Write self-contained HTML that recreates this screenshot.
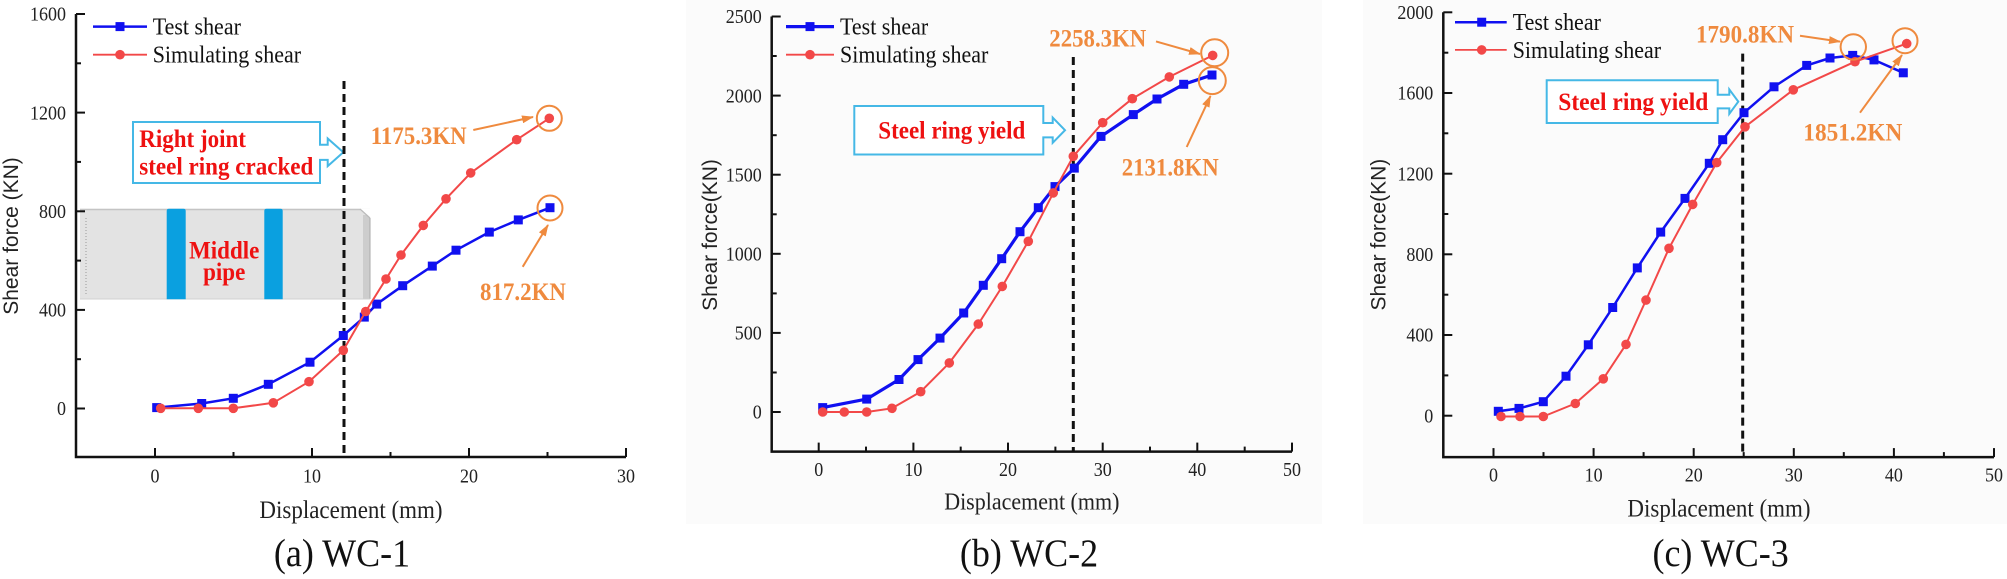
<!DOCTYPE html>
<html><head><meta charset="utf-8"><style>
html,body{margin:0;padding:0;background:#fff;}
svg{display:block;}
.tk{font-family:"Liberation Serif",serif;font-size:18px;fill:#222;}
.lg{font-family:"Liberation Serif",serif;font-size:22px;fill:#111;}
.yt{font-family:"Liberation Sans",sans-serif;font-size:21px;fill:#222;}
.xt{font-family:"Liberation Serif",serif;fill:#222;}
.cap{font-family:"Liberation Serif",serif;font-size:36px;fill:#111;}
.rd{font-family:"Liberation Serif",serif;font-weight:bold;font-size:23px;fill:#ee1111;}
.or{font-family:"Liberation Serif",serif;font-weight:bold;font-size:23px;fill:#ef8a3e;}
.ax{stroke:#111;stroke-width:2.5;fill:none;}
.bl{stroke:#1010f0;stroke-width:2.5;fill:none;stroke-linejoin:round;}
.re{stroke:#f24848;stroke-width:2;fill:none;stroke-linejoin:round;}
.dash{stroke:#111;stroke-width:3;stroke-dasharray:8 5;}
.co{fill:#fff;stroke:#45b8e6;stroke-width:2;}
.oc{fill:none;stroke:#ef8a3e;stroke-width:2;}
.oa{stroke:#ef8a3e;stroke-width:2;}
</style></head><body>
<svg width="2007" height="579" viewBox="0 0 2007 579" xmlns="http://www.w3.org/2000/svg">
<defs>
<marker id="ah" viewBox="0 0 12 8" refX="11" refY="4" markerWidth="12" markerHeight="8" markerUnits="userSpaceOnUse" orient="auto">
<path d="M0,0 L12,4 L0,8 Z" fill="#ef8a3e"/></marker>
<g id="sq"><rect x="-4.5" y="-4.5" width="9" height="9" fill="#1010f0"/></g>
<g id="ci"><circle r="4.8" fill="#f24848"/></g>
</defs>

<rect x="686" y="0" width="636" height="524" fill="#fbfbfb"/>
<rect x="1363" y="0" width="644" height="524" fill="#fbfbfb"/>

<!-- ================= PANEL A ================= -->
<!-- middle pipe -->
<g>
<rect x="80" y="208.8" width="290" height="90.5" fill="#e3e3e3"/>
<line x1="80" y1="209.5" x2="360" y2="209.5" stroke="#c4c4c4" stroke-width="1.5"/>
<rect x="363" y="215" width="7" height="84.3" fill="#cdcdcd"/>
<polygon points="360,208.8 370,218 370,208.8" fill="#fff"/>
<line x1="360" y1="209" x2="370" y2="218" stroke="#bbb" stroke-width="1.2"/>
<line x1="370" y1="218" x2="370" y2="299" stroke="#aaa" stroke-width="1"/>
<line x1="86" y1="218" x2="86" y2="294" stroke="#999" stroke-width="1" stroke-dasharray="1 2"/>
<line x1="80" y1="299" x2="370" y2="299" stroke="#d0d0d0" stroke-width="1"/>
<path d="M166.7,299.3 V211 Q166.7,208.8 169,208.8 H183.4 Q185.7,208.8 185.7,211 V299.3 Z" fill="#0aa0e0"/>
<path d="M264.3,299.3 V211 Q264.3,208.8 266.6,208.8 H280.4 Q282.7,208.8 282.7,211 V299.3 Z" fill="#0aa0e0"/>
<text class="rd" text-anchor="middle" transform="translate(224.2,258.5) scale(1,1.1)">Middle</text>
<text class="rd" text-anchor="middle" transform="translate(224.2,280) scale(1,1.1)">pipe</text>
</g>
<!-- axes -->
<path class="ax" d="M76,14 V457 H626"/>
<g stroke="#111" stroke-width="2">
<line x1="76" y1="14" x2="85" y2="14"/><line x1="76" y1="112.6" x2="85" y2="112.6"/><line x1="76" y1="211.3" x2="85" y2="211.3"/><line x1="76" y1="309.9" x2="85" y2="309.9"/><line x1="76" y1="408.5" x2="85" y2="408.5"/>
<line x1="76" y1="63.3" x2="81" y2="63.3"/><line x1="76" y1="161.9" x2="81" y2="161.9"/><line x1="76" y1="260.6" x2="81" y2="260.6"/><line x1="76" y1="359.2" x2="81" y2="359.2"/>
<line x1="155" y1="457" x2="155" y2="448"/><line x1="312" y1="457" x2="312" y2="448"/><line x1="469" y1="457" x2="469" y2="448"/><line x1="626" y1="457" x2="626" y2="448"/>
<line x1="233.5" y1="457" x2="233.5" y2="452"/><line x1="390.5" y1="457" x2="390.5" y2="452"/><line x1="547.5" y1="457" x2="547.5" y2="452"/>
</g>
<g class="tk" text-anchor="end">
<text transform="translate(66,20.7) scale(1,1.1)">1600</text>
<text transform="translate(66,119.3) scale(1,1.1)">1200</text>
<text transform="translate(66,218) scale(1,1.1)">800</text>
<text transform="translate(66,316.6) scale(1,1.1)">400</text>
<text transform="translate(66,415.2) scale(1,1.1)">0</text>
</g>
<g class="tk" text-anchor="middle">
<text transform="translate(155,482.7) scale(1,1.1)">0</text>
<text transform="translate(312,482.7) scale(1,1.1)">10</text>
<text transform="translate(469,482.7) scale(1,1.1)">20</text>
<text transform="translate(626,482.7) scale(1,1.1)">30</text>
</g>
<text class="yt" text-anchor="middle" transform="translate(18,236) rotate(-90)">Shear force (KN)</text>
<text class="xt" font-size="23" text-anchor="middle" transform="translate(351,518) scale(1,1.1)">Displacement (mm)</text>
<text class="cap" text-anchor="middle" transform="translate(342,566) scale(1,1.1)">(a) WC-1</text>
<!-- legend -->
<line x1="93" y1="26.6" x2="147" y2="26.6" stroke="#1010f0" stroke-width="2.5"/><use href="#sq" x="120" y="26.6"/>
<line x1="93" y1="54.7" x2="147" y2="54.7" stroke="#f24848" stroke-width="1.8"/><use href="#ci" x="120" y="54.7"/>
<text class="lg" transform="translate(152.7,34.5) scale(1,1.1)">Test shear</text>
<text class="lg" transform="translate(152.7,62.5) scale(1,1.1)">Simulating shear</text>
<!-- callout -->
<path class="co" d="M133,122 H320 V144.7 H327.7 V138.5 L343.3,152.3 L327.7,166.1 V159.9 H320 V183 H133 Z"/>
<text class="rd" transform="translate(139.3,147) scale(1,1.1)">Right joint</text>
<text class="rd" transform="translate(139.3,174.5) scale(1,1.1)" textLength="174" lengthAdjust="spacingAndGlyphs">steel ring cracked</text>
<!-- dashed -->
<line class="dash" x1="344" y1="81" x2="344" y2="457"/>
<!-- series -->
<polyline class="bl" points="156.7,407.6 201.7,403.5 233.3,398.3 268.3,384.3 310,362.2 343.3,335.5 364.3,317.1 376.7,304.1 402.7,285.7 432.3,266.1 456,250.2 489.3,232.1 518.3,219.9 550,207.7"/>
<g>
<use href="#sq" x="156.7" y="407.6"/><use href="#sq" x="201.7" y="403.5"/><use href="#sq" x="233.3" y="398.3"/><use href="#sq" x="268.3" y="384.3"/><use href="#sq" x="310" y="362.2"/><use href="#sq" x="343.3" y="335.5"/><use href="#sq" x="364.3" y="317.1"/><use href="#sq" x="376.7" y="304.1"/><use href="#sq" x="402.7" y="285.7"/><use href="#sq" x="432.3" y="266.1"/><use href="#sq" x="456" y="250.2"/><use href="#sq" x="489.3" y="232.1"/><use href="#sq" x="518.3" y="219.9"/><use href="#sq" x="550" y="207.7"/>
</g>
<polyline class="re" points="160.7,408.3 198.3,408.3 233.3,408.3 273.3,402.8 309,381.7 343.3,350.3 365.7,311.5 386,279 401,255 423.3,225.4 446,198.8 470.7,172.9 516.7,139.7 549.3,118.3"/>
<g>
<use href="#ci" x="160.7" y="408.3"/><use href="#ci" x="198.3" y="408.3"/><use href="#ci" x="233.3" y="408.3"/><use href="#ci" x="273.3" y="402.8"/><use href="#ci" x="309" y="381.7"/><use href="#ci" x="343.3" y="350.3"/><use href="#ci" x="365.7" y="311.5"/><use href="#ci" x="386" y="279"/><use href="#ci" x="401" y="255"/><use href="#ci" x="423.3" y="225.4"/><use href="#ci" x="446" y="198.8"/><use href="#ci" x="470.7" y="172.9"/><use href="#ci" x="516.7" y="139.7"/><use href="#ci" x="549.3" y="118.3"/>
</g>
<!-- orange annotations -->
<circle class="oc" cx="549.3" cy="118.3" r="12.5"/>
<circle class="oc" cx="550" cy="208" r="12.5"/>
<line class="oa" x1="473.3" y1="130" x2="533" y2="117" marker-end="url(#ah)"/>
<line class="oa" x1="522.7" y1="266.8" x2="548" y2="225" marker-end="url(#ah)"/>
<text class="or" transform="translate(370.7,144) scale(1,1.1)" textLength="96" lengthAdjust="spacingAndGlyphs">1175.3KN</text>
<text class="or" transform="translate(480,300) scale(1,1.1)" textLength="86" lengthAdjust="spacingAndGlyphs">817.2KN</text>

<!-- ================= PANEL B ================= -->
<path class="ax" d="M771.7,16.5 V451.6 H1292"/>
<g stroke="#111" stroke-width="2">
<line x1="771.7" y1="16.5" x2="780.7" y2="16.5"/><line x1="771.7" y1="95.6" x2="780.7" y2="95.6"/><line x1="771.7" y1="174.7" x2="780.7" y2="174.7"/><line x1="771.7" y1="253.8" x2="780.7" y2="253.8"/><line x1="771.7" y1="332.9" x2="780.7" y2="332.9"/><line x1="771.7" y1="412" x2="780.7" y2="412"/>
<line x1="771.7" y1="56" x2="776.7" y2="56"/><line x1="771.7" y1="135.2" x2="776.7" y2="135.2"/><line x1="771.7" y1="214.3" x2="776.7" y2="214.3"/><line x1="771.7" y1="293.4" x2="776.7" y2="293.4"/><line x1="771.7" y1="372.5" x2="776.7" y2="372.5"/>
<line x1="818.7" y1="451.6" x2="818.7" y2="442.6"/><line x1="913.4" y1="451.6" x2="913.4" y2="442.6"/><line x1="1008" y1="451.6" x2="1008" y2="442.6"/><line x1="1102.7" y1="451.6" x2="1102.7" y2="442.6"/><line x1="1197.3" y1="451.6" x2="1197.3" y2="442.6"/><line x1="1292" y1="451.6" x2="1292" y2="442.6"/>
<line x1="866" y1="451.6" x2="866" y2="446.6"/><line x1="960.7" y1="451.6" x2="960.7" y2="446.6"/><line x1="1055.4" y1="451.6" x2="1055.4" y2="446.6"/><line x1="1150" y1="451.6" x2="1150" y2="446.6"/><line x1="1244.7" y1="451.6" x2="1244.7" y2="446.6"/>
</g>
<g class="tk" text-anchor="end">
<text transform="translate(761.7,23.2) scale(1,1.1)">2500</text>
<text transform="translate(761.7,102.3) scale(1,1.1)">2000</text>
<text transform="translate(761.7,181.4) scale(1,1.1)">1500</text>
<text transform="translate(761.7,260.5) scale(1,1.1)">1000</text>
<text transform="translate(761.7,339.6) scale(1,1.1)">500</text>
<text transform="translate(761.7,418.7) scale(1,1.1)">0</text>
</g>
<g class="tk" text-anchor="middle">
<text transform="translate(818.7,476) scale(1,1.1)">0</text>
<text transform="translate(913.4,476) scale(1,1.1)">10</text>
<text transform="translate(1008,476) scale(1,1.1)">20</text>
<text transform="translate(1102.7,476) scale(1,1.1)">30</text>
<text transform="translate(1197.3,476) scale(1,1.1)">40</text>
<text transform="translate(1292,476) scale(1,1.1)">50</text>
</g>
<text class="yt" text-anchor="middle" transform="translate(717.2,235) rotate(-90)">Shear force(KN)</text>
<text class="xt" font-size="22" text-anchor="middle" transform="translate(1031.8,509.5) scale(1,1.1)">Displacement (mm)</text>
<text class="cap" text-anchor="middle" transform="translate(1029,566) scale(1,1.1)">(b) WC-2</text>
<line x1="786" y1="26.6" x2="834" y2="26.6" stroke="#1010f0" stroke-width="3.3"/><use href="#sq" x="810" y="26.6"/>
<line x1="786" y1="54.7" x2="834" y2="54.7" stroke="#f24848" stroke-width="1.8"/><use href="#ci" x="810" y="54.7"/>
<text class="lg" transform="translate(840,34.5) scale(1,1.1)">Test shear</text>
<text class="lg" transform="translate(840,62.5) scale(1,1.1)">Simulating shear</text>
<path class="co" d="M854.3,106 H1043.3 V123 H1052.7 V117.6 L1065,130.2 L1052.7,142.8 V137.4 H1043.3 V154.5 H854.3 Z"/>
<text class="rd" transform="translate(878.3,138.5) scale(1,1.1)" textLength="147" lengthAdjust="spacingAndGlyphs">Steel ring yield</text>
<line class="dash" x1="1073.3" y1="57" x2="1073.3" y2="451.6"/>
<polyline class="bl" style="stroke-width:3.2" points="822.7,407.6 866.7,399.1 899,379.5 918,359.6 940,338.1 963.7,313 983.3,285.3 1001.7,258.7 1020,231.7 1038.3,207.7 1055,186.6 1074.3,168.1 1101,136.4 1133.3,114.6 1157,99 1183.7,84.3 1212,75"/>
<g>
<use href="#sq" x="822.7" y="407.6"/><use href="#sq" x="866.7" y="399.1"/><use href="#sq" x="899" y="379.5"/><use href="#sq" x="918" y="359.6"/><use href="#sq" x="940" y="338.1"/><use href="#sq" x="963.7" y="313"/><use href="#sq" x="983.3" y="285.3"/><use href="#sq" x="1001.7" y="258.7"/><use href="#sq" x="1020" y="231.7"/><use href="#sq" x="1038.3" y="207.7"/><use href="#sq" x="1055" y="186.6"/><use href="#sq" x="1074.3" y="168.1"/><use href="#sq" x="1101" y="136.4"/><use href="#sq" x="1133.3" y="114.6"/><use href="#sq" x="1157" y="99"/><use href="#sq" x="1183.7" y="84.3"/><use href="#sq" x="1212" y="75"/>
</g>
<polyline class="re" points="822.7,412 844.3,412 866.7,412 892,408.3 920.7,391.7 949.3,362.9 978.3,324.1 1002.3,286.4 1028.3,241.3 1053.3,192.9 1073.3,156.3 1102.7,122.7 1132.3,98.7 1169.3,76.9 1212.7,55.4"/>
<g>
<use href="#ci" x="822.7" y="412"/><use href="#ci" x="844.3" y="412"/><use href="#ci" x="866.7" y="412"/><use href="#ci" x="892" y="408.3"/><use href="#ci" x="920.7" y="391.7"/><use href="#ci" x="949.3" y="362.9"/><use href="#ci" x="978.3" y="324.1"/><use href="#ci" x="1002.3" y="286.4"/><use href="#ci" x="1028.3" y="241.3"/><use href="#ci" x="1053.3" y="192.9"/><use href="#ci" x="1073.3" y="156.3"/><use href="#ci" x="1102.7" y="122.7"/><use href="#ci" x="1132.3" y="98.7"/><use href="#ci" x="1169.3" y="76.9"/><use href="#ci" x="1212.7" y="55.4"/>
</g>
<circle class="oc" cx="1214.7" cy="52.8" r="13.5"/>
<circle class="oc" cx="1212.3" cy="80.6" r="13.5"/>
<line class="oa" x1="1156" y1="41.4" x2="1200" y2="54" marker-end="url(#ah)"/>
<line class="oa" x1="1186.7" y1="147" x2="1210.5" y2="96" marker-end="url(#ah)"/>
<text class="or" transform="translate(1049.3,46.3) scale(1,1.1)" textLength="97" lengthAdjust="spacingAndGlyphs">2258.3KN</text>
<text class="or" transform="translate(1121.7,175.5) scale(1,1.1)" textLength="97" lengthAdjust="spacingAndGlyphs">2131.8KN</text>

<!-- ================= PANEL C ================= -->
<path class="ax" d="M1443.3,12.3 V457.1 H1994"/>
<g stroke="#111" stroke-width="2">
<line x1="1443.3" y1="12.3" x2="1452.3" y2="12.3"/><line x1="1443.3" y1="93" x2="1452.3" y2="93"/><line x1="1443.3" y1="173.7" x2="1452.3" y2="173.7"/><line x1="1443.3" y1="254.3" x2="1452.3" y2="254.3"/><line x1="1443.3" y1="335" x2="1452.3" y2="335"/><line x1="1443.3" y1="415.7" x2="1452.3" y2="415.7"/>
<line x1="1443.3" y1="52.7" x2="1448.3" y2="52.7"/><line x1="1443.3" y1="133.3" x2="1448.3" y2="133.3"/><line x1="1443.3" y1="214" x2="1448.3" y2="214"/><line x1="1443.3" y1="294.7" x2="1448.3" y2="294.7"/><line x1="1443.3" y1="375.4" x2="1448.3" y2="375.4"/>
<line x1="1493.5" y1="457.1" x2="1493.5" y2="448.1"/><line x1="1593.6" y1="457.1" x2="1593.6" y2="448.1"/><line x1="1693.7" y1="457.1" x2="1693.7" y2="448.1"/><line x1="1793.8" y1="457.1" x2="1793.8" y2="448.1"/><line x1="1893.9" y1="457.1" x2="1893.9" y2="448.1"/><line x1="1994" y1="457.1" x2="1994" y2="448.1"/>
<line x1="1543.5" y1="457.1" x2="1543.5" y2="452.1"/><line x1="1643.6" y1="457.1" x2="1643.6" y2="452.1"/><line x1="1743.7" y1="457.1" x2="1743.7" y2="452.1"/><line x1="1843.8" y1="457.1" x2="1843.8" y2="452.1"/><line x1="1943.9" y1="457.1" x2="1943.9" y2="452.1"/>
</g>
<g class="tk" text-anchor="end">
<text transform="translate(1433.3,19) scale(1,1.1)">2000</text>
<text transform="translate(1433.3,99.7) scale(1,1.1)">1600</text>
<text transform="translate(1433.3,180.4) scale(1,1.1)">1200</text>
<text transform="translate(1433.3,261) scale(1,1.1)">800</text>
<text transform="translate(1433.3,341.7) scale(1,1.1)">400</text>
<text transform="translate(1433.3,422.4) scale(1,1.1)">0</text>
</g>
<g class="tk" text-anchor="middle">
<text transform="translate(1493.5,481.6) scale(1,1.1)">0</text>
<text transform="translate(1593.6,481.6) scale(1,1.1)">10</text>
<text transform="translate(1693.7,481.6) scale(1,1.1)">20</text>
<text transform="translate(1793.8,481.6) scale(1,1.1)">30</text>
<text transform="translate(1893.9,481.6) scale(1,1.1)">40</text>
<text transform="translate(1994,481.6) scale(1,1.1)">50</text>
</g>
<text class="yt" text-anchor="middle" transform="translate(1385.5,234.6) rotate(-90)">Shear force(KN)</text>
<text class="xt" font-size="23" text-anchor="middle" transform="translate(1719,516.3) scale(1,1.1)">Displacement (mm)</text>
<text class="cap" text-anchor="middle" transform="translate(1720.6,566) scale(1,1.1)">(c) WC-3</text>
<line x1="1455" y1="22.2" x2="1506.7" y2="22.2" stroke="#1010f0" stroke-width="2.5"/><use href="#sq" x="1481.7" y="22.2"/>
<line x1="1455" y1="49.9" x2="1506.7" y2="49.9" stroke="#f24848" stroke-width="1.8"/><use href="#ci" x="1481.7" y="49.9"/>
<text class="lg" transform="translate(1512.7,30.1) scale(1,1.1)">Test shear</text>
<text class="lg" transform="translate(1512.7,57.8) scale(1,1.1)">Simulating shear</text>
<path class="co" d="M1546.7,80.2 H1717.7 V94.8 H1729.3 V89.4 L1738.3,101.6 L1729.3,113.8 V108.4 H1717.7 V123 H1546.7 Z"/>
<text class="rd" transform="translate(1558.3,110) scale(1,1.1)" textLength="150" lengthAdjust="spacingAndGlyphs">Steel ring yield</text>
<line class="dash" x1="1742.7" y1="53.6" x2="1742.7" y2="457.1"/>
<polyline class="bl" points="1498.3,411.3 1519,408.4 1543.3,401.7 1566,376.2 1588.3,344.8 1612.7,307.5 1637.3,267.9 1660.7,232.1 1685,198.4 1709.3,163.3 1722.7,139.7 1744,112.7 1774,86.8 1806.7,65.4 1830,58 1852.7,55.4 1874,59.9 1903.3,72.8"/>
<g>
<use href="#sq" x="1498.3" y="411.3"/><use href="#sq" x="1519" y="408.4"/><use href="#sq" x="1543.3" y="401.7"/><use href="#sq" x="1566" y="376.2"/><use href="#sq" x="1588.3" y="344.8"/><use href="#sq" x="1612.7" y="307.5"/><use href="#sq" x="1637.3" y="267.9"/><use href="#sq" x="1660.7" y="232.1"/><use href="#sq" x="1685" y="198.4"/><use href="#sq" x="1709.3" y="163.3"/><use href="#sq" x="1722.7" y="139.7"/><use href="#sq" x="1744" y="112.7"/><use href="#sq" x="1774" y="86.8"/><use href="#sq" x="1806.7" y="65.4"/><use href="#sq" x="1830" y="58"/><use href="#sq" x="1852.7" y="55.4"/><use href="#sq" x="1874" y="59.9"/><use href="#sq" x="1903.3" y="72.8"/>
</g>
<polyline class="re" points="1501,416.5 1520,416.5 1543.3,416.5 1575.3,403.5 1603.3,378.8 1626,344.4 1646,300.1 1669,248.3 1692.7,204.4 1716.7,162.6 1745,126.8 1793.3,89.8 1855,61.7 1906.7,43.6"/>
<g>
<use href="#ci" x="1501" y="416.5"/><use href="#ci" x="1520" y="416.5"/><use href="#ci" x="1543.3" y="416.5"/><use href="#ci" x="1575.3" y="403.5"/><use href="#ci" x="1603.3" y="378.8"/><use href="#ci" x="1626" y="344.4"/><use href="#ci" x="1646" y="300.1"/><use href="#ci" x="1669" y="248.3"/><use href="#ci" x="1692.7" y="204.4"/><use href="#ci" x="1716.7" y="162.6"/><use href="#ci" x="1745" y="126.8"/><use href="#ci" x="1793.3" y="89.8"/><use href="#ci" x="1855" y="61.7"/><use href="#ci" x="1906.7" y="43.6"/>
</g>
<circle class="oc" cx="1853.3" cy="46.9" r="12.7"/>
<circle class="oc" cx="1905" cy="40.7" r="12.5"/>
<line class="oa" x1="1800" y1="35.8" x2="1840" y2="41.6" marker-end="url(#ah)"/>
<line class="oa" x1="1860" y1="112.7" x2="1902" y2="55" marker-end="url(#ah)"/>
<text class="or" transform="translate(1696,42.5) scale(1,1.1)" textLength="98" lengthAdjust="spacingAndGlyphs">1790.8KN</text>
<text class="or" transform="translate(1803.3,140.5) scale(1,1.1)" textLength="99" lengthAdjust="spacingAndGlyphs">1851.2KN</text>
</svg>
</body></html>
